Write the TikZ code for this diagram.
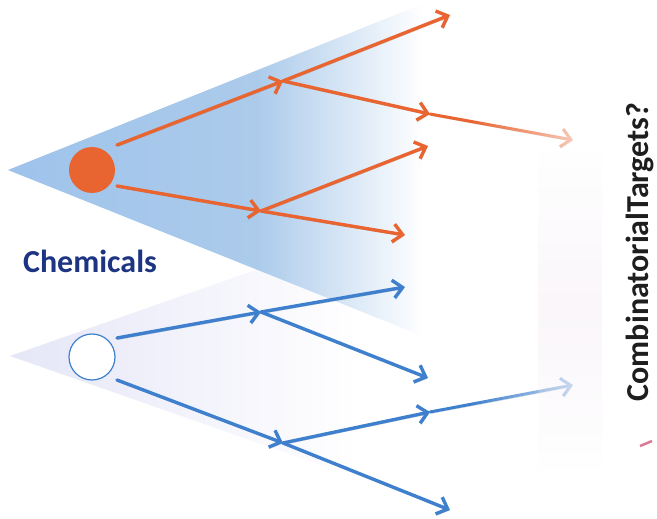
\documentclass[tikz,border=0pt]{standalone}
\usepackage{fontspec}
\setmainfont{Carlito}
\usetikzlibrary{arrows.meta,fadings}
\definecolor{fanA}{RGB}{158,195,235}
\definecolor{fanB}{RGB}{172,203,235}
\definecolor{lavA}{RGB}{229,230,247}
\definecolor{orangeC}{RGB}{232,100,48}
\definecolor{blueC}{RGB}{62,128,205}
\definecolor{chemBlue}{RGB}{28,52,130}
\definecolor{bandC}{RGB}{245,236,245}
\definecolor{tickC}{RGB}{222,120,150}
\definecolor{textC}{RGB}{30,30,30}
\pgfdeclarehorizontalshading{topfan}{100bp}{color(0bp)=(fanA); color(25bp)=(fanA); color(52bp)=(fanB); color(70bp)=(white); color(100bp)=(white)}
\pgfdeclarehorizontalshading{lowfan}{100bp}{color(0bp)=(lavA); color(25bp)=(lavA); color(63bp)=(white); color(100bp)=(white)}
\tikzfading[name=fadeR, left color=transparent!100, right color=transparent!25]
\tikzfading[name=fadeV, top color=transparent!100, bottom color=transparent!100, middle color=transparent!0]
\tikzset{
  arr/.style={line width=3.4pt, line cap=round,
    -{Straight Barb[length=9.5pt,width=18pt]},
    preaction={draw=black!60, draw opacity=0.32, transform canvas={shift={(0.9pt,-1.6pt)}}}},
  oarr/.style={arr, draw=orangeC},
  barr/.style={arr, draw=blueC},
  dot/.style={circle, minimum size=46pt, inner sep=0pt},
  lbl/.style={font=\fontsize{32}{32}\selectfont\bfseries}
}
\begin{document}
\begin{tikzpicture}[x=1pt,y=-1pt]
\useasboundingbox (0,0) rectangle (657,519);
\clip (0,0) rectangle (657,519);
\fill[white] (0,0) rectangle (657,519);
% lower fan
\shade[shading=lowfan] (10,356) -- (470,195) -- (470,517) -- cycle;
% upper fan
\shade[shading=topfan] (8,170) -- (470,-15) -- (470,355) -- cycle;
% circles
\node[dot, fill=orangeC] (c1) at (92,170) {};
\node[dot, fill=white, draw=blueC, line width=1.2pt] (c2) at (92,357) {};
% coordinates
\coordinate (s1) at (117,145);
\coordinate (b1) at (283,81);
\coordinate (t1) at (450,15);
\coordinate (b3) at (430,114);
\coordinate (t3) at (573,140);
\coordinate (s2) at (117,186);
\coordinate (b2) at (261,211);
\coordinate (t2) at (428,146);
\coordinate (t4) at (405,235);
\coordinate (s3) at (117,338);
\coordinate (b4) at (261,312);
\coordinate (t5) at (405,287);
\coordinate (t6) at (428,378);
\coordinate (s4) at (117,380);
\coordinate (b5) at (283,443);
\coordinate (b6) at (430,412);
\coordinate (t7) at (573,385);
\coordinate (t8) at (450,510);
% orange arrows
\draw[oarr] (s1) -- (b1);
\draw[oarr] (b1) -- (t1);
\draw[oarr] (b1) -- (b3);
\draw[oarr, line width=3pt] (b3) -- (t3);
\draw[oarr] (s2) -- (b2);
\draw[oarr] (b2) -- (t2);
\draw[oarr] (b2) -- (t4);
% blue arrows
\draw[barr] (s3) -- (b4);
\draw[barr] (b4) -- (t5);
\draw[barr] (b4) -- (t6);
\draw[barr] (s4) -- (b5);
\draw[barr] (b5) -- (b6);
\draw[barr, line width=3pt] (b6) -- (t7);
\draw[barr] (b5) -- (t8);
% fade the outer arrows
\fill[white, path fading=fadeR] (470,100) rectangle (590,162);
\fill[white, path fading=fadeR] (470,365) rectangle (590,425);
% faint band
\fill[bandC, fill opacity=0.45, path fading=fadeV] (538,150) rectangle (602,470);
% labels
\node[lbl, text=chemBlue, anchor=base] (chem) at (90,272) {Chemicals};
\node[lbl, text=textC, rotate=90, anchor=base] (targ) at (648,252) {CombinatorialTargets?};
\coordinate (k1) at (640,446);
\coordinate (k2) at (652,441);
\draw[tickC, line width=2.5pt] (k1) -- (k2);
\end{tikzpicture}
\end{document}
